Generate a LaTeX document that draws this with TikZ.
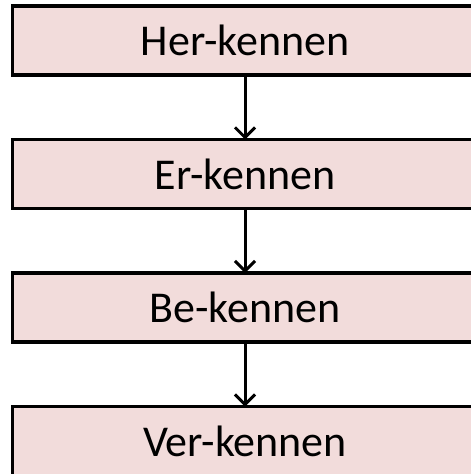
\documentclass[tikz,border=0pt]{standalone}
\usepackage{fontspec}
\setmainfont{Carlito}
\usetikzlibrary{positioning,arrows.meta}
\definecolor{boxpink}{HTML}{F2DCDB}
\tikzset{
  wordbox/.style={draw=black, line width=3.2pt, fill=boxpink, rectangle,
    minimum width=465pt, minimum height=69pt, inner sep=0pt, outer sep=0pt,
    font=\fontsize{44}{52}\selectfont},
  flowarrow/.style={draw=black, line width=3pt,
    -{Straight Barb[length=10pt,width=20pt,line width=3pt]}}
}
\begin{document}
\begin{tikzpicture}[x=1pt,y=1pt,node distance=64.5pt]
  \useasboundingbox (0,0) rectangle (471,-474);
  \clip (0,0) rectangle (471,-474);
  \node[wordbox] (her) at (245,-40.5) {Her-kennen};
  \node[wordbox, below=of her] (er) {Er-kennen};
  \node[wordbox, below=of er] (be) {Be-kennen};
  \node[wordbox, below=of be] (ver) {Ver-kennen};
  \draw[flowarrow] (her) -- (er);
  \draw[flowarrow] (er) -- (be);
  \draw[flowarrow] (be) -- (ver);
\end{tikzpicture}
\end{document}
